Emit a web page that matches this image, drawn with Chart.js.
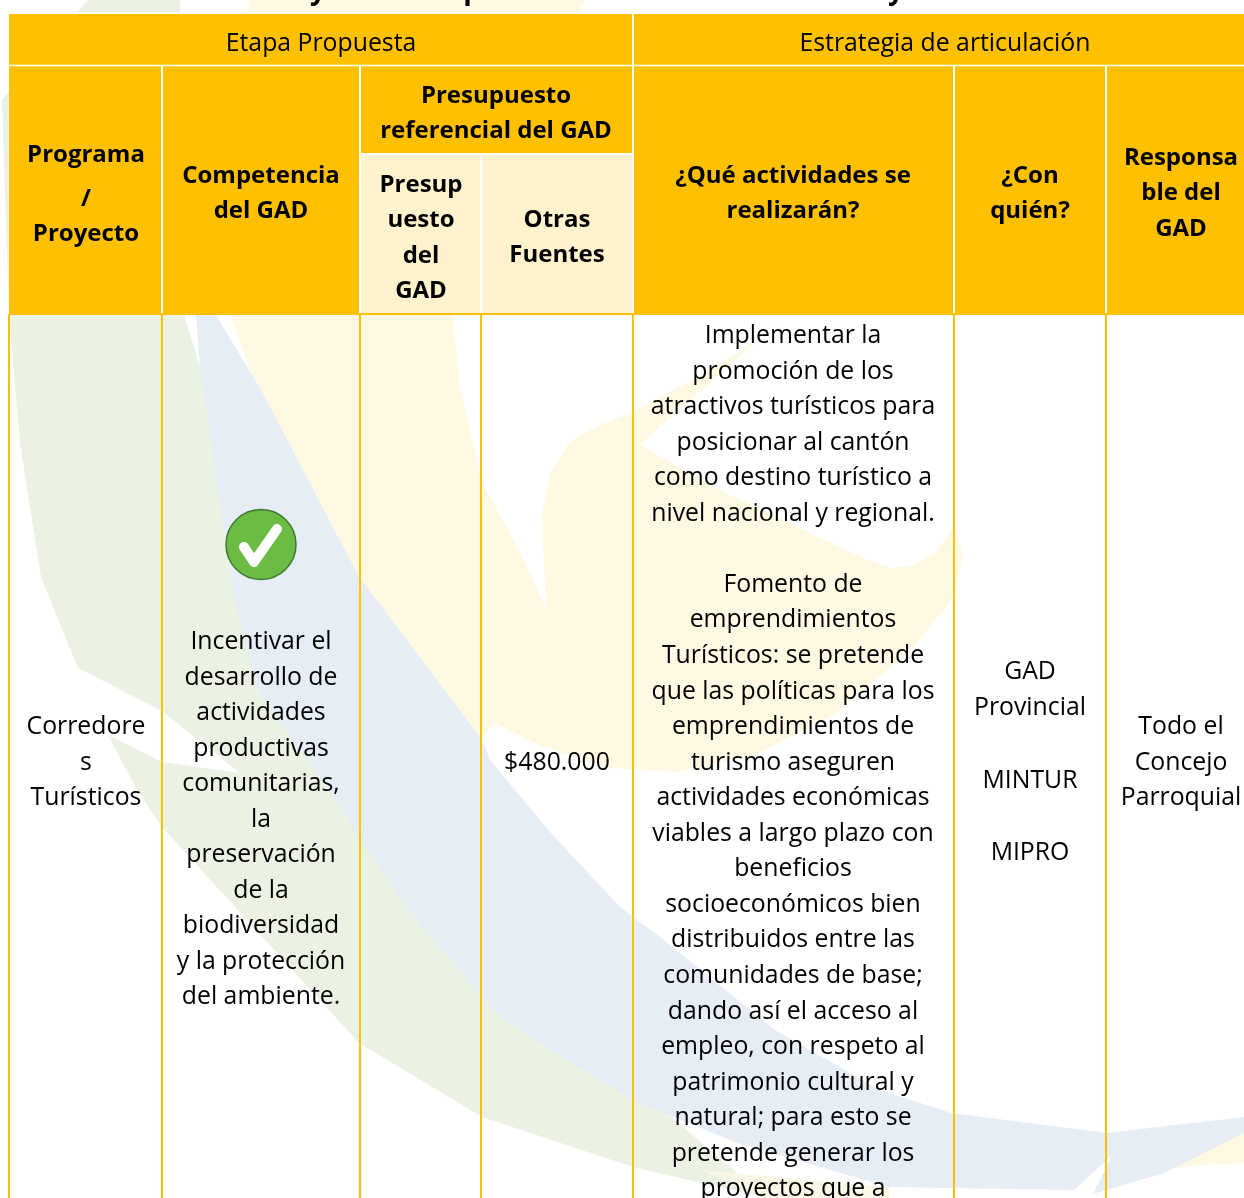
<!DOCTYPE html>
<html>
<head>
<meta charset="utf-8">
<style>
  html, body { margin: 0; padding: 0; background: #fff; overflow: hidden; }
  canvas { display: block; }
</style>
<script src="https://cdn.jsdelivr.net/npm/chart.js@4/dist/chart.umd.min.js"></script>
</head>
<body>
<canvas id="tabla" width="1244" height="1198" style="width:1244px;height:1198px"></canvas>
<script>
// cell text
const tituloCortado = ['y', 'p', 'y'];
const etapa = ['Etapa Propuesta'];
const estrategia = ['Estrategia de articulación'];
const programa = ['Programa', '/', 'Proyecto'];
const competencia = ['Competencia', 'del GAD'];
const presupuesto = ['Presupuesto', 'referencial del GAD'];
const presupGad = ['Presup', 'uesto', 'del', 'GAD'];
const otras = ['Otras', 'Fuentes'];
const actividades = ['¿Qué actividades se', 'realizarán?'];
const conQuien = ['¿Con', 'quién?'];
const responsable = ['Responsa', 'ble del', 'GAD'];
const corredores = ['Corredore', 's', 'Turísticos'];
const incentivar = ['Incentivar el', 'desarrollo de', 'actividades', 'productivas', 'comunitarias,', 'la', 'preservación', 'de la', 'biodiversidad', 'y la protección', 'del ambiente.'];
const monto = ['$480.000'];
const implementar = ['Implementar la', 'promoción de los', 'atractivos turísticos para', 'posicionar al cantón', 'como destino turístico a', 'nivel nacional y regional.', '', 'Fomento de', 'emprendimientos', 'Turísticos: se pretende', 'que las políticas para los', 'emprendimientos de', 'turismo aseguren', 'actividades económicas', 'viables a largo plazo con', 'beneficios', 'socioeconómicos bien', 'distribuidos entre las', 'comunidades de base;', 'dando así el acceso al', 'empleo, con respeto al', 'patrimonio cultural y', 'natural; para esto se', 'pretende generar los', 'proyectos que a'];
const aliados = ['GAD', 'Provincial', '', 'MINTUR', '', 'MIPRO'];
const concejo = ['Todo el', 'Concejo', 'Parroquial'];

// table grid, in pixels of the picture
const colEdges = [9, 162, 360, 481, 633, 954, 1106, 1244];
const rowEdges = [14, 65.5, 154, 314, 1198];

// watermark shapes behind the table
const greenX = [88, 180, 184, 200, 320, 640, 766, 633, 482, 359, 162, 137, 108, 162, 240, 162, 78, 41, 20, 9, 2];
const greenY = [0, 0, 315, 367, 700, 1090, 1198, 1167, 1117, 1043, 827, 790, 735, 762, 773, 711, 668, 577, 443, 315, 100];
const blueX = [196, 216, 261, 359, 482, 490, 551, 620, 660, 775, 880, 951, 1107, 1244, 1244, 1164, 1093, 1112, 1074, 889, 737, 633, 571, 500, 408, 331, 294, 257, 235, 216, 200];
const blueY = [315, 315, 390, 577, 740, 760, 833, 907, 937, 1030, 1090, 1113, 1133, 1117, 1133, 1173, 1194, 1155, 1190, 1187, 1143, 1100, 1063, 1017, 910, 793, 743, 687, 600, 477, 367];
const yellowX = [249, 584, 453, 459, 482, 518, 546, 542, 550, 569, 600, 633, 696, 745, 785, 640, 716, 814, 868, 890, 912, 935, 953, 963, 953, 913, 834, 755, 676, 609, 538, 494, 478, 440, 350, 258, 230];
const yellowY = [0, 0, 315, 382, 482, 548, 608, 515, 475, 442, 425, 412, 378, 348, 315, 445, 488, 535, 560, 568, 566, 553, 528, 555, 598, 648, 715, 755, 772, 768, 745, 723, 742, 690, 570, 392, 315];
const yellowTailX = [1160, 1244, 1244, 1200];
const yellowTailY = [1170, 1133, 1163, 1165];
const yellowFootX = [700, 889, 889, 766];
const yellowFootY = [1170, 1187, 1198, 1198];

// check mark
const circleX = [261];
const circleY = [544.5];
const tickX = [244, 254, 277];
const tickY = [547, 562, 529];

const GOLD = '#FFC000';
const PALE = '#FFF2CC';
const WHITE = '#FFFFFF';

function zipPoints(xs, ys) {
  return xs.map((x, i) => ({ x: x, y: ys[i] }));
}

function box(x0, x1, y0, y1) {
  return [{ x: x0, y: y0 }, { x: x1, y: y0 }, { x: x1, y: y1 }, { x: x0, y: y1 }];
}

function shape(points, color) {
  return { data: points, showLine: true, fill: 'shape', backgroundColor: color, borderColor: color, borderWidth: 0, pointRadius: 0 };
}

function rule(x0, x1, y0, y1, color, w) {
  return { data: [{ x: x0, y: y0 }, { x: x1, y: y1 }], showLine: true, fill: false, borderColor: color, borderWidth: w, pointRadius: 0 };
}

const c = colEdges;
const r = rowEdges;

// bottom layer first
const layers = [
  shape(zipPoints(greenX, greenY), '#EBF1E3'),
  shape(zipPoints(yellowX, yellowY), '#FFF8E3'),
  shape(zipPoints(yellowTailX, yellowTailY), '#FFF8E3'),
  shape(zipPoints(yellowFootX, yellowFootY), '#F9F8E6'),
  shape(zipPoints(blueX, blueY), '#E6EDF5'),
  shape(box(0, 1244, 12, 14), WHITE),
  shape(box(c[0], c[7], r[0], r[3]), GOLD),
  shape(box(c[2], c[4], r[2], r[3]), PALE),
  rule(c[0], c[7], r[1], r[1], WHITE, 1.5),
  rule(c[4], c[4], r[0], r[3], WHITE, 2),
  rule(c[1], c[1], r[1], r[3], WHITE, 2),
  rule(c[2], c[2], r[1], r[3], WHITE, 2),
  rule(c[3], c[3], r[2], r[3], WHITE, 2),
  rule(c[5], c[5], r[1], r[3], WHITE, 2),
  rule(c[6], c[6], r[1], r[3], WHITE, 2),
  rule(c[2], c[4], r[2], r[2], WHITE, 2),
  rule(c[0], c[7], r[3], r[3], GOLD, 2)
];
c.slice(0, 7).forEach(x => layers.push(rule(x, x, r[3], r[4], GOLD, 2)));
layers.push({
  data: zipPoints(circleX, circleY), pointRadius: 35, pointBackgroundColor: '#6CBB45',
  pointBorderColor: '#3E7A2E', pointBorderWidth: 1.5
});
layers.push({
  data: zipPoints(tickX, tickY), showLine: true, fill: false, borderColor: WHITE, borderWidth: 10,
  borderCapStyle: 'round', borderJoinStyle: 'round', pointRadius: 0
});

layers.forEach((d, i) => {
  d.order = layers.length - i;
  d.clip = false;
});

const REGULAR = '400 24.8px "Open Sans"';
const BOLD = '700 24px "Open Sans"';
const TITLE = '700 28px "Open Sans"';

// which lines go where: block, centre x, y of each line
const lineH = 35.5;
const textDrop = 2; // canvas middle sits a bit above the picture's line centres
const blocks = [
  { t: [tituloCortado[0]], x: 318, y: -11, f: TITLE },
  { t: [tituloCortado[1]], x: 472, y: -11, f: TITLE },
  { t: [tituloCortado[2]], x: 896, y: -11, f: TITLE },
  { t: etapa, x: 321, y: 42, f: REGULAR },
  { t: estrategia, x: 945, y: 42, f: REGULAR },
  { t: programa, x: 86, ys: [153, 197, 232], f: BOLD },
  { t: competencia, x: 261, y: 174, f: BOLD },
  { t: presupuesto, x: 496, y: 94, f: BOLD },
  { t: presupGad, x: 421, y: 183, f: BOLD },
  { t: otras, x: 557, y: 218, f: BOLD },
  { t: actividades, x: 793, y: 174, f: BOLD },
  { t: conQuien, x: 1030, y: 174, f: BOLD },
  { t: responsable, x: 1181, y: 156, f: BOLD },
  { t: corredores, x: 86, y: 725, f: REGULAR },
  { t: incentivar, x: 261, y: 640, f: REGULAR },
  { t: monto, x: 557, y: 761, f: REGULAR },
  { t: implementar, x: 793, y: 334, f: REGULAR, h: 35.55 },
  { t: aliados, x: 1030, y: 670, f: REGULAR, h: 36.2 },
  { t: concejo, x: 1181, y: 725, f: REGULAR }
];

const tablaText = {
  id: 'tablaText',
  afterDatasetsDraw(chart) {
    const ctx = chart.ctx;
    const sx = chart.scales.x;
    const sy = chart.scales.y;
    ctx.save();
    ctx.fillStyle = '#000';
    ctx.textAlign = 'center';
    ctx.textBaseline = 'middle';
    blocks.forEach(b => {
      ctx.font = b.f;
      b.t.forEach((line, i) => {
        const y = (b.ys ? b.ys[i] : b.y + i * (b.h || lineH)) + textDrop;
        ctx.fillText(line, sx.getPixelForValue(b.x), sy.getPixelForValue(y));
      });
    });
    ctx.restore();
  }
};

new Chart(document.querySelector('#tabla').getContext('2d'), {
  type: 'scatter',
  data: { datasets: layers },
  options: {
    responsive: false,
    animation: false,
    layout: { padding: 0, autoPadding: false },
    plugins: { legend: { display: false }, tooltip: { enabled: false } },
    scales: {
      x: { type: 'linear', display: false, min: 0, max: 1244 },
      y: { type: 'linear', display: false, reverse: true, min: 0, max: 1198 }
    }
  },
  plugins: [tablaText]
});
</script>
</body>
</html>
